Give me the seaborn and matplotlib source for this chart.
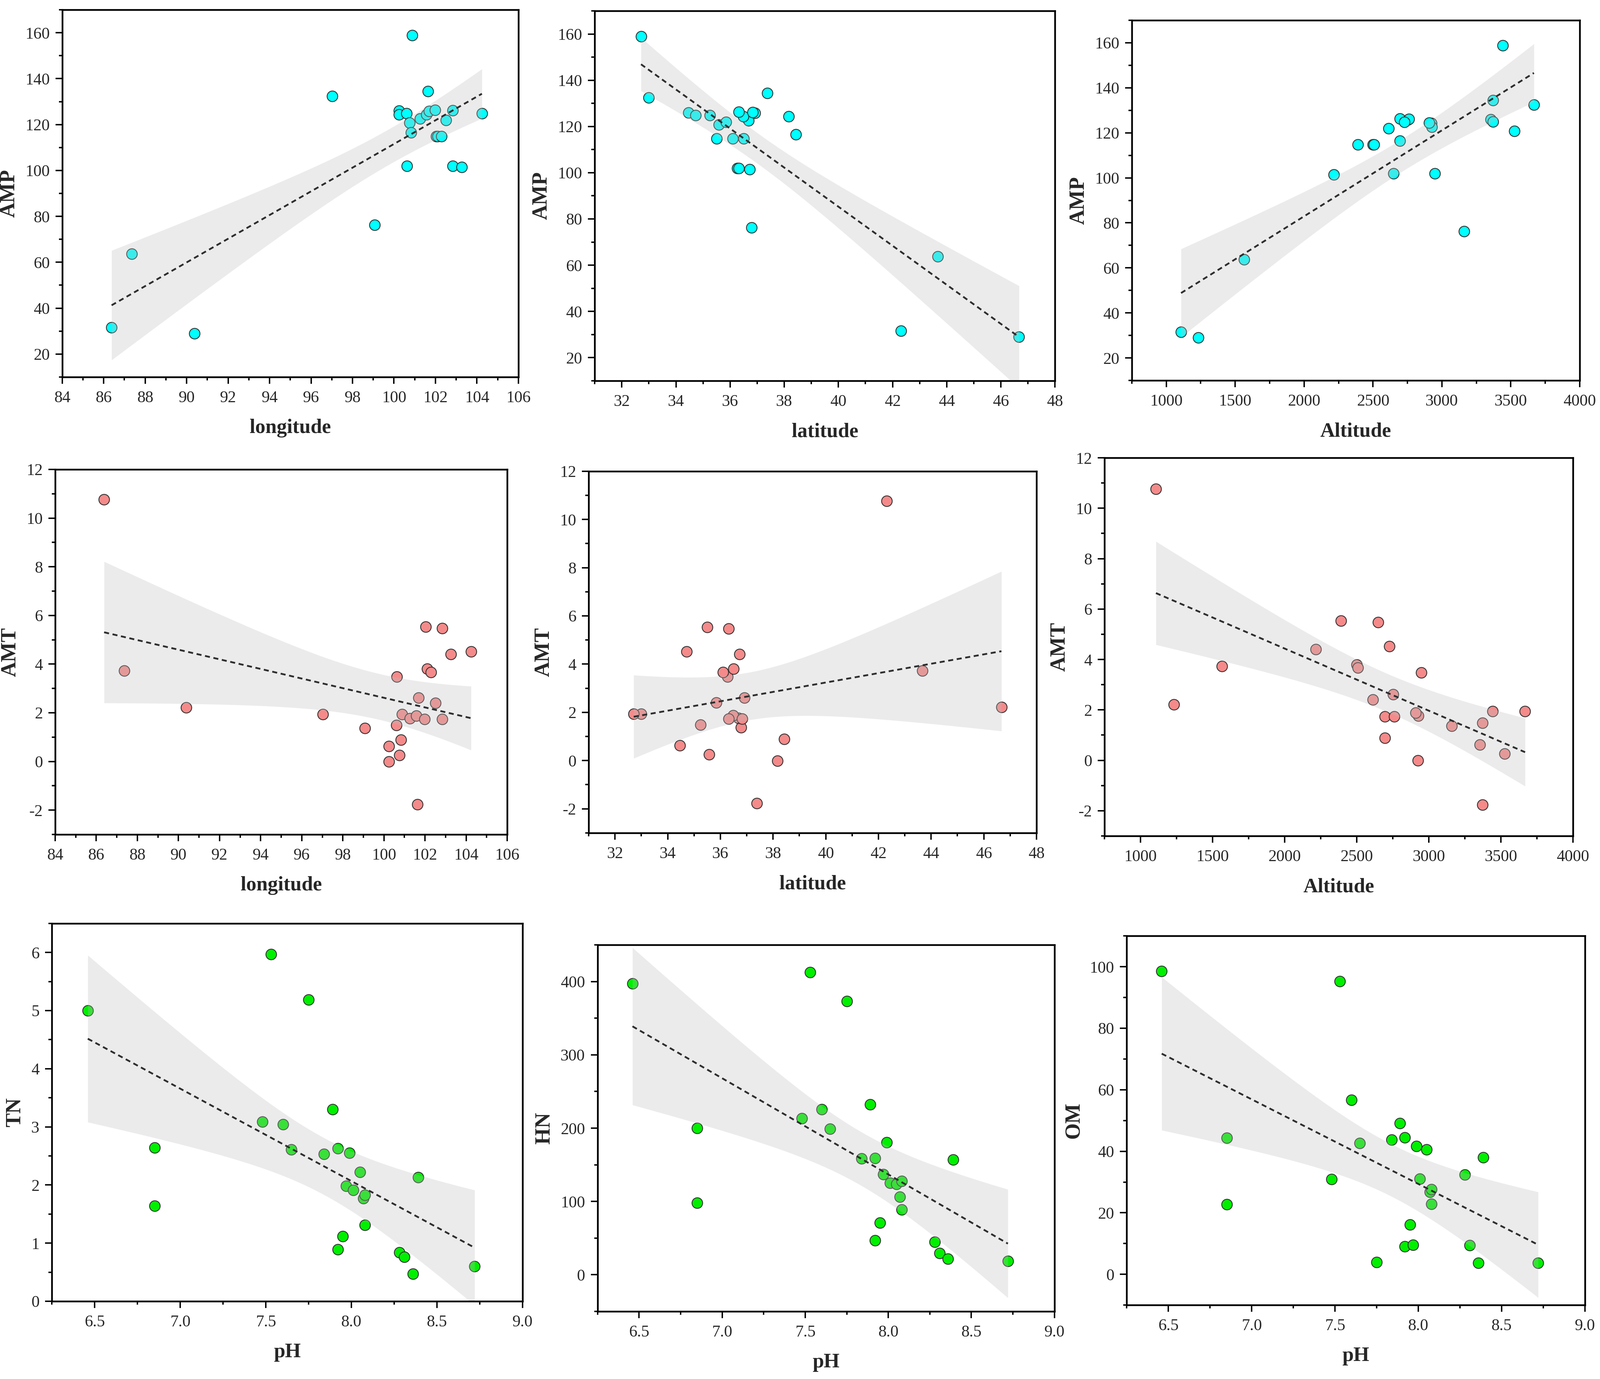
import numpy as np
import pandas as pd
import matplotlib
matplotlib.use("Agg")
import matplotlib.pyplot as plt
import seaborn as sns
from matplotlib.ticker import MultipleLocator, AutoMinorLocator

# ---------------- data (25 sampling sites) ----------------
longitude = [86.38, 87.36, 90.37, 97.02, 99.07, 100.24, 100.24, 100.60, 100.63,
             100.76, 100.82, 100.88, 101.26, 101.57, 101.63, 101.69, 101.98,
             102.03, 102.11, 102.29, 102.50, 102.84, 102.84, 103.26, 104.24]
latitude = [42.31, 43.67, 46.67, 33.00, 36.79, 34.47, 38.17, 35.25, 36.27,
            35.58, 38.43, 32.71, 36.68, 36.49, 37.38, 36.92, 36.32,
            35.51, 36.50, 36.10, 35.85, 36.32, 36.83, 36.73, 34.72]
altitude = [1107, 1564, 1232, 3668, 3160, 3355, 2924, 3372, 2948,
            3525, 2695, 3443, 2927, 2909, 3372, 2753, 2695,
            2390, 2499, 2508, 2613, 2648, 2761, 2216, 2727]
AMP = [31.6, 63.7, 29.0, 132.4, 76.3, 126.0, 124.3, 124.9, 102.0,
       120.8, 116.5, 158.9, 122.6, 124.4, 134.5, 125.8, 126.3,
       114.8, 114.8, 114.8, 121.9, 101.9, 126.2, 101.4, 124.8]
AMT = [10.77, 3.73, 2.22, 1.94, 1.37, 0.62, -0.01, 1.49, 3.48,
       0.26, 0.89, 1.94, 1.77, 1.88, -1.77, 2.61, 1.73,
       5.53, 3.80, 3.67, 2.40, 5.47, 1.73, 4.41, 4.52]

pH = [6.46, 6.85, 6.85, 7.48, 7.53, 7.60, 7.65, 7.75, 7.84, 7.89, 7.92, 7.92,
      7.95, 7.97, 7.99, 8.01, 8.05, 8.07, 8.08, 8.08, 8.28, 8.31, 8.36, 8.39, 8.72]
TN = [5.00, 2.64, 1.64, 3.09, 5.97, 3.04, 2.61, 5.19, 2.53, 3.30, 2.63, 0.89,
      1.12, 1.98, 2.55, 1.91, 2.22, 1.77, 1.83, 1.31, 0.84, 0.76, 0.47, 2.13, 0.60]
HN = [397.1, 199.8, 98.2, 213.5, 412.8, 225.9, 199.0, 373.1, 158.3, 232.1, 158.8, 46.8,
      70.9, 136.8, 180.7, 125.2, 123.9, 106.1, 127.7, 89.1, 44.8, 29.4, 21.6, 157.1, 18.7]
OM = [98.5, 44.3, 22.7, 30.9, 95.3, 56.7, 42.6, 3.9, 43.7, 49.1, 44.5, 9.1,
      16.2, 9.6, 41.7, 31.1, 40.6, 26.8, 27.6, 22.8, 32.4, 9.4, 3.7, 38.0, 3.7]

sites = pd.DataFrame({"longitude": longitude, "latitude": latitude,
                      "Altitude": altitude, "AMP": AMP, "AMT": AMT})
soil = pd.DataFrame({"pH": pH, "TN": TN, "HN": HN, "OM": OM})

CYAN = "#00FFFF"
SALMON = "#F58A8A"
GREEN = "#00F000"

# panel specs: data, x, y, colour, xlim, ylim, xmajor, ymajor, [left, bottom, width, height]
panels = [
    (sites, "longitude", "AMP", CYAN, (84, 106), (10, 170), 2, 20, [0.0389, 0.7266, 0.2851, 0.2663]),
    (sites, "latitude", "AMP", CYAN, (31, 48), (10, 170), 2, 20, [0.3717, 0.7239, 0.2877, 0.2682]),
    (sites, "Altitude", "AMP", CYAN, (750, 4000), (10, 170), 500, 20, [0.7074, 0.7241, 0.2799, 0.2612]),
    (sites, "longitude", "AMT", SALMON, (84, 106), (-3, 12), 2, 2, [0.0345, 0.3949, 0.2825, 0.2647]),
    (sites, "latitude", "AMT", SALMON, (31, 48), (-3, 12), 2, 2, [0.3679, 0.3960, 0.2799, 0.2623]),
    (sites, "Altitude", "AMT", SALMON, (750, 4000), (-3, 12), 500, 2, [0.6903, 0.3938, 0.2928, 0.2742]),
    (soil, "pH", "TN", GREEN, (6.25, 9.0), (0, 6.5), 0.5, 1, [0.0324, 0.0564, 0.2942, 0.2740]),
    (soil, "pH", "HN", GREEN, (6.25, 9.0), (-50, 450), 0.5, 100, [0.3735, 0.0490, 0.2855, 0.2658]),
    (soil, "pH", "OM", GREEN, (6.25, 9.0), (-10, 110), 0.5, 20, [0.7042, 0.0536, 0.2863, 0.2677]),
]

sns.set_style("ticks")
plt.rcParams["font.family"] = ["Liberation Serif", "DejaVu Serif"]
plt.rcParams["axes.unicode_minus"] = False

fig = plt.figure(figsize=(4262 / 300, 3672 / 300), dpi=300)

T_CRIT = 2.069  # Student t, 95 %, df = 23


def confidence_band(ax, x, y):
    x = np.asarray(x, float)
    y = np.asarray(y, float)
    n = len(x)
    slope, intercept = np.polyfit(x, y, 1)
    grid = np.linspace(x.min(), x.max(), 300)
    fit = intercept + slope * grid
    resid = y - (intercept + slope * x)
    s = np.sqrt(np.sum(resid ** 2) / (n - 2))
    sxx = np.sum((x - x.mean()) ** 2)
    se = s * np.sqrt(1.0 / n + (grid - x.mean()) ** 2 / sxx)
    ax.fill_between(grid, fit - T_CRIT * se, fit + T_CRIT * se,
                    facecolor="#BEBEBE", alpha=0.3, linewidth=0, zorder=2)


for data, xc, yc, col, xlim, ylim, xmaj, ymaj, pos in panels:
    ax = fig.add_axes(pos)
    sns.regplot(data=data, x=xc, y=yc, ax=ax, ci=None, truncate=True, color=col,
                scatter_kws=dict(s=46, alpha=1, edgecolor="#333333", linewidths=0.55, zorder=1),
                line_kws=dict(color="#2E2E2E", lw=1.15, ls=(0, (2.8, 2.0)), zorder=3))
    confidence_band(ax, data[xc], data[yc])
    ax.set_xlim(*xlim)
    ax.set_ylim(*ylim)
    ax.xaxis.set_major_locator(MultipleLocator(xmaj))
    ax.yaxis.set_major_locator(MultipleLocator(ymaj))
    ax.xaxis.set_minor_locator(AutoMinorLocator(2))
    ax.yaxis.set_minor_locator(AutoMinorLocator(2))
    for sp in ax.spines.values():
        sp.set_visible(True)
        sp.set_linewidth(1.1)
        sp.set_color("black")
    ax.tick_params(which="both", direction="out", top=False, right=False,
                   color="black", width=0.9)
    ax.tick_params(which="major", length=4.4, labelsize=10.5)
    ax.tick_params(which="minor", length=2.2)
    ax.tick_params(axis="x", which="major", pad=4.2)
    ax.tick_params(axis="y", which="major", pad=3.6)
    ax.set_xlabel(xc, fontsize=13, fontweight="bold", labelpad=8.5)
    ax.set_ylabel(yc, fontsize=13.5, fontweight="bold", labelpad=4)

fig.savefig("out.png", dpi=300)
